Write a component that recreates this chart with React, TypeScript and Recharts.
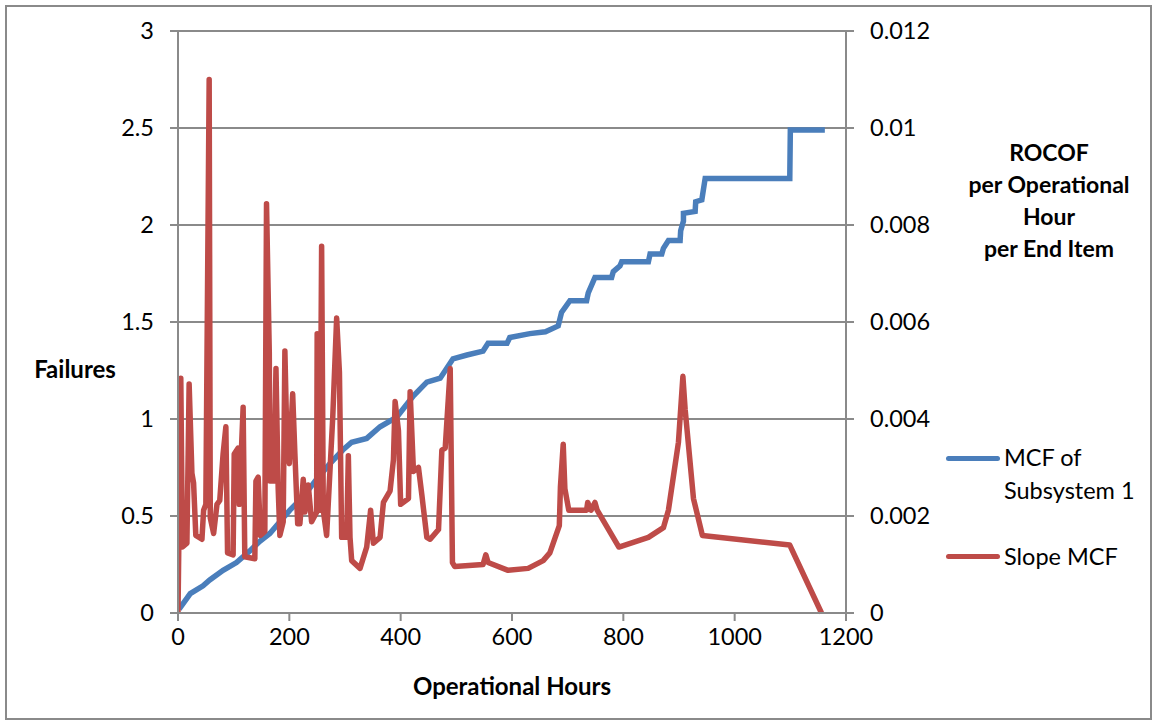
import { CartesianGrid, Line, LineChart, XAxis, YAxis } from "recharts";

// MCF of Subsystem 1 (left axis, failures)
const mcfHours = [
  2, 22, 45, 57, 81, 105, 129, 147, 165, 183, 201, 225, 249, 273, 296, 312, 339, 363, 393, 423,
  447, 471, 494, 519, 548, 557, 591, 596, 632, 660, 683, 689, 704, 734, 737, 749, 779, 782, 794,
  797, 845, 848, 869, 872, 881, 902, 903, 908, 908, 929, 930, 941, 947, 1099, 1100, 1162,
];
const mcfValues = [
  0.02, 0.1, 0.14, 0.17, 0.22, 0.26, 0.32, 0.37, 0.41, 0.47, 0.53, 0.6, 0.69, 0.77, 0.84, 0.88,
  0.9, 0.96, 1.01, 1.12, 1.19, 1.21, 1.31, 1.33, 1.35, 1.39, 1.39, 1.42, 1.44, 1.45, 1.48, 1.55,
  1.61, 1.61, 1.65, 1.73, 1.73, 1.76, 1.79, 1.81, 1.81, 1.85, 1.85, 1.88, 1.92, 1.92, 1.97, 2.02,
  2.06, 2.07, 2.12, 2.13, 2.24, 2.24, 2.49, 2.49,
];

// Slope MCF (right axis, ROCOF)
const slopeHours = [
  0, 5, 8, 16, 20, 25, 28, 32, 43, 46, 50, 56, 58, 64, 70, 75, 81, 86, 89, 99, 101, 108, 110, 117,
  120, 138, 140, 144, 148, 156, 159, 164, 165, 172, 176, 180, 183, 189, 192, 195, 200, 206, 210,
  215, 219, 225, 228, 234, 240, 249, 250, 255, 258, 261, 267, 278, 285, 290, 294, 303, 306, 309,
  312, 327, 339, 346, 351, 363, 369, 381, 387, 390, 396, 400, 414, 417, 423, 432, 438, 447, 453,
  468, 474, 480, 489, 493, 497, 548, 553, 557, 593, 629, 656, 668, 685, 687, 692, 695, 702, 734,
  736, 742, 749, 753, 792, 845, 872, 881, 899, 907, 911, 926, 942, 1099, 1156,
];
const slopeValues = [
  0, 0.00484, 0.00136, 0.00144, 0.00472, 0.00288, 0.00268, 0.0016, 0.00152, 0.00212, 0.00224,
  0.011, 0.00196, 0.00164, 0.00224, 0.00232, 0.00328, 0.00384, 0.00124, 0.0012, 0.00328, 0.0034,
  0.00224, 0.00424, 0.00116, 0.00112, 0.00272, 0.0028, 0.0016, 0.00168, 0.00844, 0.00536,
  0.00272, 0.00272, 0.00504, 0.00256, 0.0016, 0.00188, 0.0054, 0.00388, 0.00308, 0.00452,
  0.00328, 0.00184, 0.00184, 0.00276, 0.00208, 0.00264, 0.00188, 0.00208, 0.00576, 0.00212,
  0.00756, 0.00212, 0.0016, 0.00404, 0.00608, 0.00496, 0.00156, 0.00156, 0.00324, 0.00156,
  0.00108, 0.00092, 0.00136, 0.00212, 0.00144, 0.00156, 0.00228, 0.00252, 0.00316, 0.00436,
  0.00376, 0.00224, 0.00236, 0.00456, 0.00292, 0.003, 0.00244, 0.00156, 0.00152, 0.00172,
  0.00336, 0.0034, 0.00504, 0.00104, 0.00096, 0.001, 0.0012, 0.00104, 0.00088, 0.00092, 0.00108,
  0.00124, 0.0018, 0.0026, 0.00348, 0.00256, 0.00212, 0.00212, 0.00228, 0.00212, 0.00228,
  0.00212, 0.00136, 0.00156, 0.00176, 0.00212, 0.00352, 0.00488, 0.0042, 0.00236, 0.0016,
  0.0014, 0,
];

const hourTicks = [0, 200, 400, 600, 800, 1000, 1200];
const failureTicks = [0, 0.5, 1, 1.5, 2, 2.5, 3];
const rocofTicks = [0, 0.002, 0.004, 0.006, 0.008, 0.01, 0.012];

const mcfData = mcfHours.map((h, i) => ({ h, v: mcfValues[i] }));
const slopeData = slopeHours.map((h, i) => ({ h, v: slopeValues[i] }));

const FONT = "Lato, 'Open Sans', sans-serif";
const GRAY = "#8a8a8a";
const BLUE = "#4a7ebb";
const RED = "#be4b48";

const tick = { fill: "#000", fontSize: 23.5, fontFamily: FONT };

export default function App() {
  return (
    <div
      style={{
        position: "absolute",
        left: 0,
        top: 0,
        width: 1154,
        height: 724,
        background: "#fff",
        fontFamily: FONT,
        color: "#000",
      }}
    >
      <div
        style={{
          position: "absolute",
          left: 5,
          top: 5,
          width: 1143,
          height: 711,
          border: `2px solid ${GRAY}`,
        }}
      />
      <LineChart
        width={1154}
        height={724}
        margin={{ top: 31, right: 228, bottom: 71, left: 118 }}
        style={{ position: "absolute", left: 0, top: 0 }}
      >
        <CartesianGrid yAxisId="left" vertical={false} stroke={GRAY} strokeWidth={2} />
        <XAxis
          dataKey="h"
          type="number"
          domain={[0, 1200]}
          ticks={hourTicks}
          allowDataOverflow
          tick={tick}
          tickSize={8}
          tickMargin={7}
          height={40}
          stroke={GRAY}
          strokeWidth={2}
        />
        <YAxis
          yAxisId="left"
          domain={[0, 3]}
          ticks={failureTicks}
          tick={tick}
          tickSize={8}
          tickMargin={16}
          width={60}
          stroke={GRAY}
          strokeWidth={2}
        />
        <YAxis
          yAxisId="right"
          orientation="right"
          domain={[0, 0.012]}
          ticks={rocofTicks}
          tickFormatter={(v) => String(v)}
          tick={tick}
          tickSize={8}
          tickMargin={16}
          width={80}
          stroke={GRAY}
          strokeWidth={2}
        />
        <Line
          yAxisId="left"
          data={mcfData}
          dataKey="v"
          type="linear"
          stroke={BLUE}
          strokeWidth={5.5}
          dot={false}
          isAnimationActive={false}
        />
        <Line
          yAxisId="right"
          data={slopeData}
          dataKey="v"
          type="linear"
          stroke={RED}
          strokeWidth={5.5}
          strokeLinejoin="round"
          dot={false}
          isAnimationActive={false}
        />
      </LineChart>

      <div
        style={{
          position: "absolute",
          left: 15,
          top: 354,
          width: 120,
          textAlign: "center",
          fontWeight: 700,
          fontSize: 24,
        }}
      >
        Failures
      </div>
      <div
        style={{
          position: "absolute",
          left: 362,
          top: 671,
          width: 300,
          textAlign: "center",
          fontWeight: 700,
          fontSize: 24,
        }}
      >
        Operational Hours
      </div>
      <div
        style={{
          position: "absolute",
          left: 949,
          top: 136,
          width: 200,
          textAlign: "center",
          fontWeight: 700,
          fontSize: 23,
          lineHeight: "32px",
        }}
      >
        ROCOF
        <br />
        per Operational
        <br />
        Hour
        <br />
        per End Item
      </div>

      <div style={{ position: "absolute", left: 946, top: 456, width: 54, height: 5, background: BLUE, borderRadius: 3 }} />
      <div style={{ position: "absolute", left: 1004, top: 441, fontSize: 23.5, lineHeight: "33px" }}>
        MCF of
        <br />
        Subsystem 1
      </div>
      <div style={{ position: "absolute", left: 946, top: 554, width: 54, height: 5, background: RED, borderRadius: 3 }} />
      <div style={{ position: "absolute", left: 1004, top: 540, fontSize: 23.5, lineHeight: "33px" }}>
        Slope MCF
      </div>
    </div>
  );
}
